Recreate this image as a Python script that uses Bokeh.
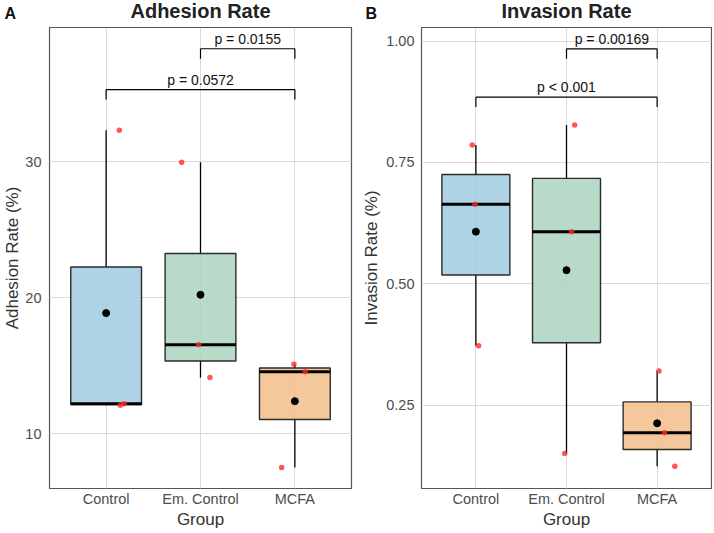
import numpy as np
from bokeh.plotting import figure
from bokeh.models import Range1d, FixedTicker, Title, ColumnDataSource
from bokeh.layouts import row
from bokeh.embed import file_html
from bokeh.resources import INLINE

# ---------------- data ----------------
groups = ["Control", "Em. Control", "MCFA"]

adhesion_control = [32.3, 12.1, 12.2]
adhesion_em_control = [29.95, 16.55, 14.14]
adhesion_mcfa = [15.1, 14.56, 7.53]

invasion_control = [0.786, 0.664, 0.372]
invasion_em_control = [0.827, 0.607, 0.150]
invasion_mcfa = [0.320, 0.193, 0.124]

# horizontal jitter of the individual points (category units)
adhesion_jitter = [[0.14, 0.15, 0.19], [-0.20, -0.02, 0.10], [-0.01, 0.11, -0.14]]
invasion_jitter = [[-0.04, -0.01, 0.03], [0.09, 0.055, -0.02], [0.02, 0.08, 0.195]]

# significance brackets: (group a, group b, label, bracket height)
adhesion_tests = [("Em. Control", "MCFA", "p = 0.0155", 38.29),
                  ("Control", "MCFA", "p = 0.0572", 35.29)]
invasion_tests = [("Em. Control", "MCFA", "p = 0.00169", 0.984),
                  ("Control", "MCFA", "p < 0.001", 0.8845)]

adhesion_ticks = [10, 20, 30]
adhesion_tick_labels = ["10", "20", "30"]
invasion_ticks = [0.25, 0.50, 0.75, 1.00]
invasion_tick_labels = ["0.25", "0.50", "0.75", "1.00"]

box_colors = ["#9FCBDF", "#ACD5C0", "#F3BE8B"]

FONT = "Liberation Sans"
HEIGHT = 531


def make_panel(letter, title, ylabel, series, jitters, tests, yr, ticks, tick_labels,
               width, border_left, border_right, ylab_standoff, ytick_standoff, letter_x):
    # outermost title: the main title (pulled down into the top border)
    main_title = Title(text=title, align="center", standoff=-41.4, vertical_align="bottom",
                       text_font=FONT, text_font_size="20px", text_font_style="bold",
                       text_color="#222222")
    p = figure(width=width, height=HEIGHT, output_backend="svg", toolbar_location=None,
               x_range=Range1d(0.4, 3.6), y_range=Range1d(*yr),
               min_border_left=border_left, min_border_right=border_right,
               min_border_top=27, min_border_bottom=43, title=main_title)
    # panel letter, next to the frame, top aligned
    p.add_layout(Title(text=letter, align="left", offset=letter_x - border_left,
                       standoff=7.1, vertical_align="top",
                       text_font=FONT, text_font_size="16px", text_font_style="bold",
                       text_color="#111111"), "above")

    p.outline_line_color = "#555555"
    p.outline_line_width = 1.2
    p.background_fill_color = "white"
    p.border_fill_color = "white"

    xs = list(range(1, len(groups) + 1))
    # axes
    p.xaxis.ticker = FixedTicker(ticks=xs)
    p.xaxis.major_label_overrides = {x: g for x, g in zip(xs, groups)}
    p.yaxis.ticker = FixedTicker(ticks=ticks)
    p.yaxis.major_label_overrides = {t: l for t, l in zip(ticks, tick_labels)}
    for ax in (p.xaxis, p.yaxis):
        ax.axis_line_color = None
        ax.major_tick_line_color = None
        ax.minor_tick_line_color = None
        ax.major_tick_out = 0
        ax.major_tick_in = 0
        ax.minor_tick_out = 0
        ax.minor_tick_in = 0
        ax.major_label_text_font = FONT
        ax.major_label_text_font_size = "14.5px"
        ax.major_label_text_color = "#4d4d4d"
        ax.axis_label_text_font = FONT
        ax.axis_label_text_font_size = "17px"
        ax.axis_label_text_font_style = "normal"
        ax.axis_label_text_color = "#333333"
    p.xaxis.axis_label = "Group"
    p.yaxis.axis_label = ylabel
    p.xaxis.major_label_standoff = 2
    p.xaxis.axis_label_standoff = 0
    p.yaxis.major_label_standoff = ytick_standoff
    p.yaxis.axis_label_standoff = ylab_standoff

    p.xgrid.ticker = FixedTicker(ticks=xs)
    p.ygrid.ticker = FixedTicker(ticks=ticks)
    for g in (p.xgrid, p.ygrid):
        g.grid_line_color = "#dadada"
        g.grid_line_width = 1

    # box statistics
    stats = dict(x=[], left=[], right=[], q1=[], med=[], q3=[], lo=[], hi=[], mean=[], color=[])
    px, py = [], []
    for i, vals in enumerate(series):
        v = np.array(vals, dtype=float)
        q1, med, q3 = np.percentile(v, [25, 50, 75])
        iqr = q3 - q1
        lo = v[v >= q1 - 1.5 * iqr].min()
        hi = v[v <= q3 + 1.5 * iqr].max()
        x = xs[i]
        stats["x"].append(x)
        stats["left"].append(x - 0.375)
        stats["right"].append(x + 0.375)
        stats["q1"].append(q1)
        stats["med"].append(med)
        stats["q3"].append(q3)
        stats["lo"].append(lo)
        stats["hi"].append(hi)
        stats["mean"].append(v.mean())
        stats["color"].append(box_colors[i])
        for val, j in zip(vals, jitters[i]):
            px.append(x + j)
            py.append(val)
    src = ColumnDataSource(stats)

    p.segment(x0="x", y0="q3", x1="x", y1="hi", source=src, line_color="black", line_width=1.3)
    p.segment(x0="x", y0="q1", x1="x", y1="lo", source=src, line_color="black", line_width=1.3)
    p.quad(left="left", right="right", bottom="q1", top="q3", source=src,
           fill_color="color", fill_alpha=0.85, line_color="#2b2b2b", line_width=1.4)
    p.segment(x0="left", y0="med", x1="right", y1="med", source=src,
              line_color="black", line_width=3)
    p.scatter(x="x", y="mean", source=src, size=7, color="black")
    p.scatter(x=px, y=py, size=5.5, fill_color="#ff2a2a", line_color=None, fill_alpha=0.8)

    # significance brackets
    tip = 0.0215 * (yr[1] - yr[0])
    for a, b, lab, yb in tests:
        xa = xs[groups.index(a)]
        xb = xs[groups.index(b)]
        p.segment(x0=[xa, xa, xb], y0=[yb, yb - tip, yb - tip],
                  x1=[xb, xa, xb], y1=[yb, yb, yb],
                  line_color="black", line_width=1.2)
        p.text(x=[(xa + xb) / 2], y=[yb], text=[lab], text_align="center",
               text_baseline="bottom", y_offset=-2, text_font_size="14px",
               text_color="#111111", text_font={"value": FONT})
    return p


p1 = make_panel("A", "Adhesion Rate", "Adhesion Rate (%)",
                [adhesion_control, adhesion_em_control, adhesion_mcfa],
                adhesion_jitter, adhesion_tests, (5.98, 39.85),
                adhesion_ticks, adhesion_tick_labels,
                width=357, border_left=48, border_right=6,
                ylab_standoff=0, ytick_standoff=8, letter_x=3)
p2 = make_panel("B", "Invasion Rate", "Invasion Rate (%)",
                [invasion_control, invasion_em_control, invasion_mcfa],
                invasion_jitter, invasion_tests, (0.078, 1.028),
                invasion_ticks, invasion_tick_labels,
                width=355, border_left=64, border_right=1,
                ylab_standoff=2, ytick_standoff=7, letter_x=8)

layout = row(p1, p2, spacing=0)
open("out.html", "w").write(file_html(layout, INLINE))
